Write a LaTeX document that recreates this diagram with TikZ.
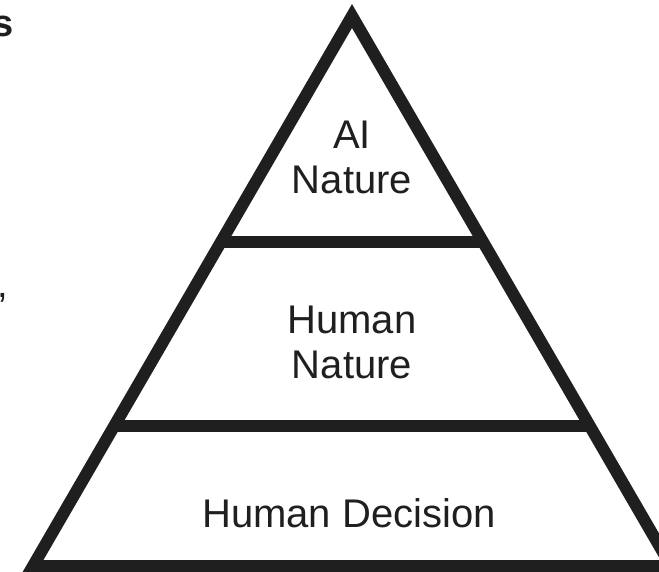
\documentclass[tikz,border=0pt]{standalone}
\usepackage{fontspec}
\setmainfont{Liberation Sans}
\usetikzlibrary{calc}
\colorlet{ink}{black!88}
\tikzset{
    edge/.style={ink,line width=12pt,line join=miter},
    tier/.style={ink,font=\fontsize{40}{45}\selectfont,anchor=base,inner sep=0pt,align=center},
    stub/.style={ink,font=\fontsize{38}{45}\selectfont,anchor=base east,inner sep=0pt}
}

\begin{document}
\begin{tikzpicture}[x=1pt,y=-1pt]
        \useasboundingbox (0,0) rectangle (659,571);
        \clip (0,0) rectangle (659,571);
        \def\base{566}
        \coordinate (top) at (352,16);
        \coordinate (bl) at (33,\base);
        \coordinate (br) at (671,\base);
        % the pyramid
        \draw [edge] (top) -- (br) -- (bl) -- cycle;
        \draw [edge] ($(top)!0.411!(bl)$) -- ($(top)!0.411!(br)$);
        \draw [edge] ($(top)!0.745!(bl)$) -- ($(top)!0.745!(br)$);
        % levels (base = last line)
        \node [tier] (ai) at (352,193) {AI\\Nature};
        \node [tier] (human) at (352,378) {Human\\Nature};
        \node [tier] (decision) at (349,527) {Human Decision};
        % cut text on the left
        \node [stub] (cuts) at (14,36) {\bfseries s};
        \node [stub] (cutc) at (8,297) {,};
    \end{tikzpicture}
\end{document}
